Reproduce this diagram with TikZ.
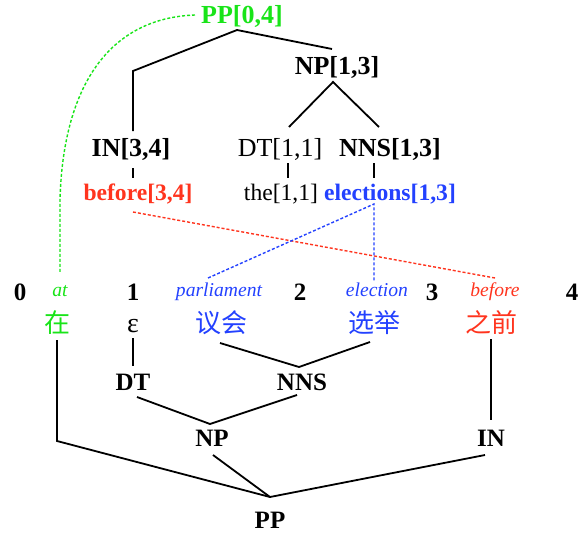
\documentclass[tikz,border=0pt]{standalone}
\usepackage{fontspec}
\setmainfont{Liberation Serif}
\newfontfamily\cjk{Noto Sans CJK SC}
\definecolor{tgreen}{RGB}{25,228,25}
\definecolor{tred}{RGB}{255,52,30}
\definecolor{tblue}{RGB}{35,65,255}
\begin{document}
\begin{tikzpicture}[x=1pt,y=-1pt,
  every node/.style={inner sep=0pt, anchor=base},
  tl/.style={font=\fontsize{26}{30}\selectfont\bfseries},
  tr/.style={font=\fontsize{26}{30}\selectfont},
  wd/.style={font=\fontsize{23.6}{28}\selectfont\bfseries},
  wr/.style={font=\fontsize{23.6}{28}\selectfont},
  num/.style={font=\fontsize{25}{30}\selectfont\bfseries},
  gl/.style={font=\fontsize{19.6}{24}\selectfont\itshape},
  zh/.style={font=\fontsize{26}{30}\cjk},
  ll/.style={font=\fontsize{25}{30}\selectfont\bfseries},
  epsf/.style={font=\fontsize{28}{32}\selectfont},
  edge/.style={line width=1.8pt},
  alignline/.style={line width=1.4pt, dash pattern=on 3pt off 2pt}]
\useasboundingbox (0,0) rectangle (587,533);
% upper tree
\node[tl,text=tgreen] (ppt) at (242,23) {PP[0,4]};
\node[tl] (npt) at (337,74) {NP[1,3]};
\node[tl] (int) at (131,156) {IN[3,4]};
\node[tr] (dtt) at (280,156) {DT[1,1]};
\node[tl] (nnst) at (390,156) {NNS[1,3]};
\node[wd,text=tred] (wbefore) at (138,200) {before[3,4]};
\node[wr] (wthe) at (281,200) {the[1,1]};
\node[wd,text=tblue] (welec) at (390,200) {elections[1,3]};
% index row
\node[num] (n0) at (20,300) {0};
\node[num] (n1) at (133,300) {1};
\node[num] (n2) at (300,300) {2};
\node[num] (n3) at (432,300) {3};
\node[num] (n4) at (572,300) {4};
\node[gl,text=tgreen] (gat) at (60,296) {at};
\node[gl,text=tblue] (gpar) at (219,296) {parliament};
\node[gl,text=tblue] (gelec) at (377,296) {election};
\node[gl,text=tred] (gbef) at (495,296) {before};
\node[zh,text=tgreen] (zai) at (58,332) {在};
\node[epsf] (eps) at (133,332) {ε};
\node[zh,text=tblue] (yihui) at (221,332) {议会};
\node[zh,text=tblue] (xuanju) at (374,332) {选举};
\node[zh,text=tred] (zhiqian) at (491,332) {之前};
% lower tree
\node[ll] (dtl) at (133,390) {DT};
\node[ll] (nnsl) at (302,390) {NNS};
\node[ll] (npl) at (212,446) {NP};
\node[ll] (inl) at (491,446) {IN};
\node[ll] (ppl) at (270,528) {PP};
% connection points
\coordinate (ppt-s) at (237,30);
\coordinate (ppt-w) at (195,15);
\coordinate (bendL) at (133,71);
\coordinate (int-n) at (133,131);
\coordinate (int-s) at (133,168);
\coordinate (npt-n) at (332,49);
\coordinate (npt-s) at (333,82);
\coordinate (dtt-n) at (289,127);
\coordinate (dtt-s) at (288,163);
\coordinate (nnst-n) at (379,127);
\coordinate (nnst-s) at (374,163);
\coordinate (wbefore-n) at (133,178);
\coordinate (wbefore-s) at (133,212);
\coordinate (wthe-n) at (288,178);
\coordinate (welec-n) at (374,178);
\coordinate (welec-s) at (374,204);
\coordinate (gat-n) at (60,273);
\coordinate (gpar-n) at (208,278);
\coordinate (gelec-n) at (374,281);
\coordinate (gbef-n) at (495,278);
\coordinate (zai-s) at (57,340);
\coordinate (zai-b) at (57,441);
\coordinate (eps-s) at (133,338);
\coordinate (yihui-s) at (220,343);
\coordinate (xuanju-s) at (370,342);
\coordinate (zhiqian-s) at (491,339);
\coordinate (dtl-n) at (133,366);
\coordinate (dtl-s) at (137,397);
\coordinate (nnsl-n) at (299,367);
\coordinate (nnsl-s) at (297,395);
\coordinate (npl-n) at (210,424);
\coordinate (npl-s) at (213,455);
\coordinate (inl-n) at (491,420);
\coordinate (inl-s) at (485,455);
\coordinate (ppl-n) at (270,497);
% upper tree edges
\draw[edge] (int-n) -- (bendL) -- (ppt-s) -- (npt-n);
\draw[edge] (dtt-n) -- (npt-s) -- (nnst-n);
\draw[edge] (int-s) -- (wbefore-n);
\draw[edge] (dtt-s) -- (wthe-n);
\draw[edge] (nnst-s) -- (welec-n);
% alignments
\draw[alignline,tgreen] (ppt-w) .. controls (110,18) and (63,85) .. (60,200) -- (gat-n);
\draw[alignline,tred] (wbefore-s) -- (gbef-n);
\draw[alignline,tblue] (gpar-n) -- (welec-s) -- (gelec-n);
% lower tree edges
\draw[edge] (zai-s) -- (zai-b) -- (ppl-n) -- (inl-s);
\draw[edge] (npl-s) -- (ppl-n);
\draw[edge] (zhiqian-s) -- (inl-n);
\draw[edge] (eps-s) -- (dtl-n);
\draw[edge] (yihui-s) -- (nnsl-n) -- (xuanju-s);
\draw[edge] (dtl-s) -- (npl-n) -- (nnsl-s);
\end{tikzpicture}
\end{document}
